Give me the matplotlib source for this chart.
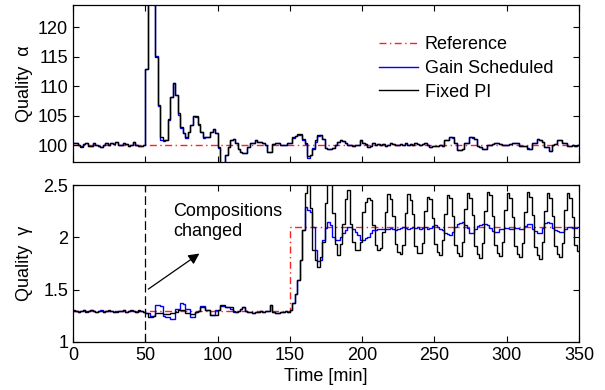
import numpy as np
import matplotlib
matplotlib.use("Agg")
import matplotlib.pyplot as plt

plt.rcParams['font.family'] = ['Liberation Sans', 'DejaVu Sans']
plt.rcParams['font.size'] = 13

dt = 50.0 / 29.0

alpha_pi = [
    100.3, 100.4, 100.0, 99.7, 100.2, 100.3, 99.8, 99.9, 100.4, 100.1,
    99.8, 99.7, 100.0, 100.3, 100.1, 100.4, 100.2, 100.5, 100.0, 100.1,
    100.4, 100.2, 99.9, 100.1, 100.6, 100.0, 99.8, 99.9, 100.1,
    113.0, 126.0, 126.0, 126.0, 115.0, 106.8, 101.4, 100.85, 100.85, 104.5, 108.2,
    110.5, 108.5, 105.4, 103.1, 102.0, 101.4, 102.3, 103.4, 104.9, 104.9,
    103.6, 102.3, 101.4, 101.4, 101.4, 102.3, 102.7, 102.0, 99.7, 96.5,
    96.5, 98.3, 99.7, 100.85, 101.1, 100.4, 99.4, 98.9, 98.6, 98.6,
    99.7, 100.4, 100.4, 100.85, 100.6, 100.5, 100.3, 100.0, 98.8, 98.9,
    100.2, 100.4, 100.4, 100.0, 100.1, 100.0, 100.3, 100.4, 101.4, 101.6,
    101.9, 101.9, 101.0, 100.3, 98.1, 98.3, 99.4, 100.8, 101.7, 101.8,
    101.0, 99.6, 99.3, 99.3, 99.6, 100.0, 100.5, 100.8, 100.7, 100.3,
    100.0, 100.0, 99.9, 100.0, 100.1, 100.8, 100.4, 100.2, 99.7, 99.8,
    100.3, 100.1, 100.2, 100.0, 100.2, 99.9, 100.1, 100.3, 100.2, 100.0,
    100.1, 100.2, 100.0, 100.3, 100.1, 100.2, 100.1, 100.4, 100.2, 100.0,
    100.2, 100.4, 100.1, 99.7, 99.8, 99.9, 99.9, 100.0, 99.9, 100.8,
    100.8, 101.4, 101.4, 100.3, 99.2, 99.2, 99.3, 100.3, 100.3, 101.4,
    101.4, 101.0, 99.8, 99.7, 99.4, 99.4, 100.0, 100.0, 100.2, 100.4,
    100.4, 100.2, 100.1, 100.1, 100.1, 100.2, 100.3, 100.3, 100.4, 99.9,
    99.8, 99.8, 99.4, 99.4, 100.3, 100.3, 101.0, 100.8, 100.6, 99.7,
    99.7, 99.0, 100.0, 100.2, 100.85, 100.85, 100.3, 100.3, 99.9, 99.9,
    100.0, 99.9, 100.0,
]

alpha_gs = [
    100.3, 100.4, 100.0, 99.8, 100.2, 100.3, 99.8, 99.9, 100.4, 100.1,
    99.8, 99.7, 100.0, 100.3, 100.1, 100.4, 100.2, 100.5, 100.0, 100.1,
    100.4, 100.2, 99.9, 100.1, 100.6, 100.0, 99.8, 99.9, 100.1,
    113.0, 126.0, 126.0, 126.0, 115.2, 106.6, 100.9, 100.7, 100.85, 104.3, 108.2,
    110.5, 108.6, 105.2, 103.0, 102.0, 101.3, 102.2, 103.4, 104.9, 104.8,
    103.5, 102.2, 101.3, 101.4, 101.4, 102.2, 102.7, 102.0, 99.6, 96.5,
    96.5, 98.3, 99.7, 100.8, 101.1, 100.4, 99.4, 98.9, 98.6, 98.6,
    99.7, 100.4, 100.4, 100.8, 100.6, 100.5, 100.3, 100.0, 98.8, 98.9,
    100.2, 100.4, 100.4, 100.0, 100.1, 100.0, 100.3, 100.4, 101.3, 101.5,
    101.8, 101.8, 100.9, 100.2, 97.9, 98.4, 99.6, 100.6, 101.5, 101.7,
    101.0, 99.5, 99.3, 99.3, 99.6, 100.0, 100.5, 100.8, 100.7, 100.3,
    100.0, 100.0, 99.9, 100.0, 100.1, 100.8, 100.4, 100.2, 99.7, 99.8,
    100.3, 100.1, 100.2, 100.0, 100.2, 99.9, 100.1, 100.3, 100.2, 100.0,
    100.1, 100.2, 100.0, 100.3, 100.1, 100.2, 100.1, 100.4, 100.2, 100.0,
    100.2, 100.4, 100.1, 99.7, 99.8, 99.9, 99.9, 100.0, 99.9, 100.8,
    100.8, 101.4, 101.3, 100.3, 99.2, 99.2, 99.3, 100.3, 100.3, 101.4,
    101.3, 101.0, 99.8, 99.7, 99.4, 99.4, 100.0, 100.0, 100.2, 100.4,
    100.4, 100.2, 100.1, 100.1, 100.1, 100.2, 100.3, 100.3, 100.4, 99.9,
    99.8, 99.8, 99.5, 99.4, 100.3, 100.3, 101.0, 100.8, 100.6, 99.7,
    99.7, 99.1, 100.0, 100.2, 100.8, 100.8, 100.3, 100.3, 99.9, 99.9,
    100.0, 99.9, 100.0,
]

gamma_pi = [
    1.31, 1.30, 1.29, 1.30, 1.31, 1.29, 1.30, 1.31, 1.30, 1.29,
    1.30, 1.30, 1.29, 1.30, 1.31, 1.30, 1.29, 1.29, 1.30, 1.30,
    1.31, 1.29, 1.30, 1.31, 1.30, 1.29, 1.31, 1.30, 1.29,
    1.274, 1.235, 1.24, 1.25, 1.28, 1.28, 1.28, 1.27, 1.27, 1.265, 1.28,
    1.28, 1.29, 1.306, 1.31, 1.31, 1.28, 1.28, 1.27, 1.27, 1.29,
    1.30, 1.33, 1.33, 1.31, 1.31, 1.26, 1.26, 1.26, 1.31, 1.35,
    1.35, 1.33, 1.33, 1.33, 1.30, 1.29, 1.30, 1.32, 1.33, 1.30,
    1.29, 1.29, 1.28, 1.29, 1.29, 1.30, 1.29, 1.30, 1.30, 1.35,
    1.29, 1.28, 1.28, 1.29, 1.29, 1.30, 1.29, 1.31, 1.37, 1.46,
    1.59, 1.78, 2.07, 2.42, 2.60, 2.28, 1.88, 1.78, 1.72, 1.81,
    1.96, 2.33, 2.55, 2.52, 2.23, 1.94, 1.83, 1.94, 2.13, 2.37,
    2.45, 2.13, 1.96, 1.88, 1.88, 1.96, 2.24, 2.34, 2.38, 2.36,
    2.12, 1.93, 1.88, 1.90, 2.05, 2.24, 2.41, 2.37, 2.20, 1.94,
    1.86, 1.84, 1.93, 2.23, 2.41, 2.36, 2.22, 1.92, 1.85, 1.85,
    1.95, 2.25, 2.39, 2.37, 2.18, 1.94, 1.86, 1.83, 1.97, 2.22,
    2.40, 2.38, 2.20, 1.93, 1.85, 1.82, 1.96, 2.27, 2.42, 2.38,
    2.21, 1.92, 1.84, 1.80, 1.95, 2.25, 2.43, 2.40, 2.20, 1.93,
    1.85, 1.82, 1.96, 2.26, 2.42, 2.38, 2.19, 1.92, 1.84, 1.81,
    1.95, 2.24, 2.43, 2.39, 2.21, 1.91, 1.83, 1.79, 1.96, 2.25,
    2.42, 2.38, 2.20, 1.92, 1.84, 1.81, 1.95, 2.26, 2.42, 2.38,
    2.19, 1.93, 1.87,
]

gamma_gs = [
    1.30, 1.30, 1.29, 1.30, 1.31, 1.30, 1.30, 1.31, 1.30, 1.29,
    1.30, 1.31, 1.29, 1.30, 1.30, 1.30, 1.29, 1.30, 1.30, 1.30,
    1.31, 1.29, 1.30, 1.30, 1.30, 1.29, 1.30, 1.30, 1.29,
    1.28, 1.28, 1.25, 1.25, 1.353, 1.35, 1.34, 1.245, 1.24, 1.24, 1.217,
    1.22, 1.32, 1.32, 1.369, 1.36, 1.32, 1.32, 1.24, 1.24, 1.29,
    1.30, 1.345, 1.345, 1.31, 1.31, 1.26, 1.26, 1.31, 1.31, 1.345,
    1.345, 1.33, 1.33, 1.32, 1.29, 1.29, 1.30, 1.32, 1.33, 1.30,
    1.29, 1.29, 1.28, 1.29, 1.29, 1.30, 1.29, 1.30, 1.30, 1.35,
    1.29, 1.28, 1.28, 1.29, 1.29, 1.30, 1.29, 1.31, 1.37, 1.46,
    1.59, 1.78, 2.07, 2.29, 2.26, 2.24, 2.10, 1.88, 1.77, 1.78,
    1.97, 2.09, 2.15, 2.12, 2.00, 1.97, 1.97, 2.00, 2.04, 2.07,
    2.10, 2.10, 2.08, 2.05, 2.02, 1.97, 1.97, 1.99, 2.00, 2.04,
    2.07, 2.07, 2.08, 2.08, 2.08, 2.08, 2.08, 2.09, 2.08, 2.07,
    2.08, 2.09, 2.10, 2.09, 2.08, 2.09, 2.10, 2.09, 2.10, 2.08,
    2.09, 2.10, 2.08, 2.09, 2.11, 2.12, 2.10, 2.08, 2.07, 2.04,
    2.03, 2.02, 2.05, 2.10, 2.13, 2.14, 2.15, 2.12, 2.09, 2.04,
    2.04, 2.08, 2.11, 2.12, 2.13, 2.13, 2.12, 2.09, 2.06, 2.05,
    2.05, 2.08, 2.08, 2.09, 2.09, 2.08, 2.08, 2.09, 2.09, 2.08,
    2.08, 2.11, 2.13, 2.13, 2.08, 2.06, 2.04, 2.04, 2.09, 2.14,
    2.15, 2.14, 2.09, 2.07, 2.06, 2.05, 2.05, 2.08, 2.10, 2.10,
    2.09, 2.09, 2.10,
]

ref_times = [0, 150, 350]
alpha_ref = [100, 100]
gamma_ref = [1.3, 2.1]

edges = np.arange(len(alpha_pi) + 1) * dt

REF_STYLE = dict(color="#ff2020", lw=1.0, linestyle=(0, (5, 2.5, 1, 2.5)), baseline=None)
GS_STYLE = dict(color="#0000ff", lw=1.0, baseline=None)
PI_STYLE = dict(color="black", lw=1.0, baseline=None)

fig = plt.figure(figsize=(6.05, 3.9), dpi=100)
ax1 = fig.add_axes([73 / 605, 1 - 161.7 / 390, 506 / 605, 156.7 / 390])
ax2 = fig.add_axes([73 / 605, 1 - 342 / 390, 506 / 605, 157 / 390])

# top: quality alpha
ax1.stairs(alpha_ref, ref_times, label="Reference", **REF_STYLE)
ax1.stairs(alpha_gs, edges, label="Gain Scheduled", **GS_STYLE)
ax1.stairs(alpha_pi, edges, label="Fixed PI", **PI_STYLE)
ax1.set_xlim(0, 350)
ax1.set_ylim(97.2, 123.8)
ax1.set_yticks([100, 105, 110, 115, 120])
ax1.set_xticks(range(0, 351, 50))
ax1.set_xticklabels([])
ax1.set_ylabel("Quality  α")
ax1.legend(loc="upper left", bbox_to_anchor=(0.604, 0.80), frameon=False,
           borderpad=0, borderaxespad=0, handlelength=2.2, handletextpad=0.35,
           labelspacing=0.37, fontsize=13)

# bottom: quality gamma
ax2.stairs(gamma_ref, ref_times, **REF_STYLE)
ax2.stairs(gamma_gs, edges, **GS_STYLE)
ax2.stairs(gamma_pi, edges, **PI_STYLE)
ax2.axvline(50, color="black", lw=0.9, linestyle=(0, (7, 3)))
ax2.set_xlim(0, 350)
ax2.set_ylim(1, 2.5)
ax2.set_yticks([1, 1.5, 2, 2.5])
ax2.set_yticklabels(["1", "1.5", "2", "2.5"])
ax2.set_xticks(range(0, 351, 50))
ax2.set_xlabel("Time [min]", labelpad=3)
ax2.set_ylabel("Quality  γ")
ax2.text(69, 2.15, "Compositions\nchanged", ha="left", va="center", fontsize=13)
ax2.annotate("", xy=(89, 1.86), xytext=(50.5, 1.49),
             arrowprops=dict(arrowstyle="-|>", color="black", lw=0.9, mutation_scale=16))

for ax in (ax1, ax2):
    ax.tick_params(direction="in", top=True, right=True, length=4, width=0.8, labelsize=13)
    for s in ax.spines.values():
        s.set_linewidth(0.9)
    ax.yaxis.set_label_coords(-0.079, 0.5)

fig.savefig("out.png", dpi=100)
